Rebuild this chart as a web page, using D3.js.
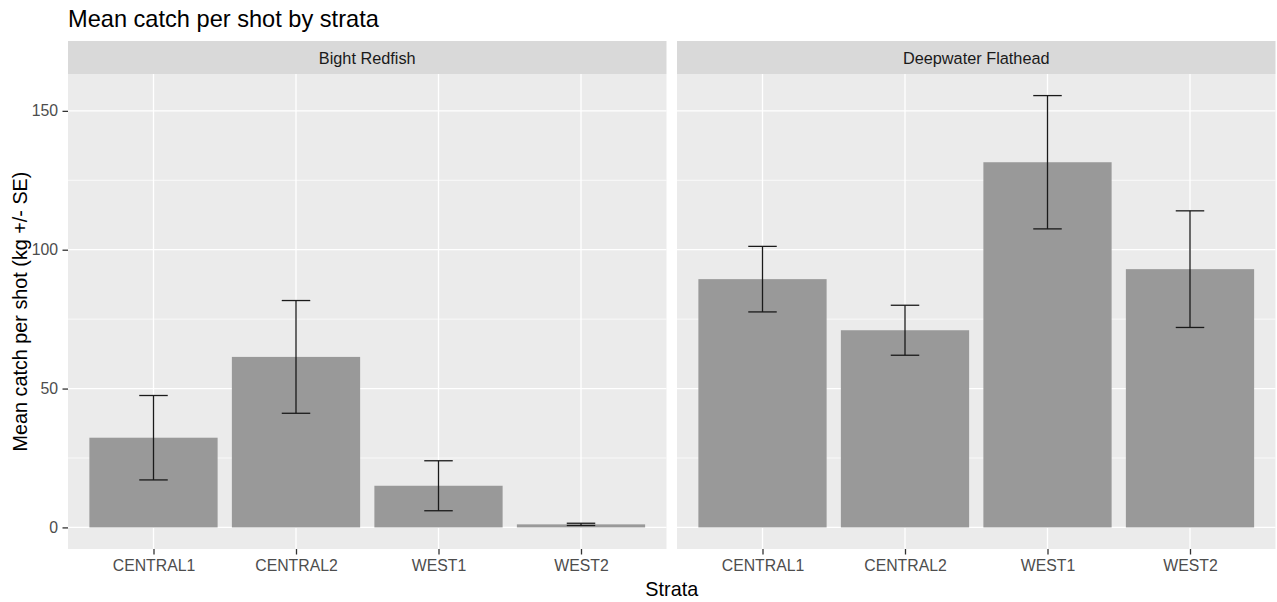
<!DOCTYPE html>
<html>
<head>
<meta charset="utf-8">
<script src="https://cdn.jsdelivr.net/npm/d3@7"></script>
<style>
  html, body { margin: 0; padding: 0; background: #fff; }
  svg { display: block; font-family: "Liberation Sans", Arial, sans-serif; }
</style>
</head>
<body>
<svg id="chart" width="1277" height="602"></svg>
<script>
// Mean catch per shot (kg) with standard errors, by survey stratum and species
const strata = ["CENTRAL1", "CENTRAL2", "WEST1", "WEST2"];
const species = ["Bight Redfish", "Deepwater Flathead"];
const meanRedfish = [32.3, 61.4, 15.0, 1.1];
const seRedfish = [15.2, 20.3, 9.0, 0.4];
const meanFlathead = [89.4, 71.0, 131.5, 93.0];
const seFlathead = [11.8, 9.0, 24.0, 21.0];
const yTicks = [0, 50, 100, 150];
const yMinorTicks = [25, 75, 125];

const panels = [
  { name: species[0], mean: meanRedfish, se: seRedfish },
  { name: species[1], mean: meanFlathead, se: seFlathead }
];

const svg = d3.select("#chart");

const panelTop = 74, panelBottom = 549, stripTop = 41;
const panelLeft = [68, 677], panelW = 598.5;
const tickLen = 5.5, tickFont = 15.8;

// shared y scale with 5% expansion around data + error range
const lo = Math.min(0, d3.min(panels, p => d3.min(p.mean, (m, i) => m - p.se[i])));
const hi = d3.max(panels, p => d3.max(p.mean, (m, i) => m + p.se[i]));
const pad = (hi - lo) * 0.05;
const y = d3.scaleLinear().domain([lo - pad, hi + pad]).range([panelBottom, panelTop]);

// title
svg.append("text")
  .attr("x", 68).attr("y", 27)
  .attr("font-size", 23.6).attr("fill", "#000")
  .text("Mean catch per shot by strata");

panels.forEach((p, pi) => {
  const x0 = panelLeft[pi];
  const x = d3.scalePoint().domain(strata).range([x0, x0 + panelW]).padding(0.6);
  const step = x.step();
  const g = svg.append("g");

  // strip
  g.append("rect").attr("x", x0).attr("y", stripTop)
    .attr("width", panelW).attr("height", panelTop - stripTop).attr("fill", "#d9d9d9");
  g.append("text").attr("x", x0 + panelW / 2).attr("y", 64)
    .attr("text-anchor", "middle").attr("font-size", 16.3).attr("fill", "#1a1a1a")
    .text(p.name);

  // panel background
  g.append("rect").attr("x", x0).attr("y", panelTop)
    .attr("width", panelW).attr("height", panelBottom - panelTop).attr("fill", "#ebebeb");

  // grid
  g.selectAll(".minor").data(yMinorTicks).join("line")
    .attr("x1", x0).attr("x2", x0 + panelW)
    .attr("y1", d => y(d)).attr("y2", d => y(d))
    .attr("stroke", "#fff").attr("stroke-width", 0.7);
  g.selectAll(".major").data(yTicks).join("line")
    .attr("x1", x0).attr("x2", x0 + panelW)
    .attr("y1", d => y(d)).attr("y2", d => y(d))
    .attr("stroke", "#fff").attr("stroke-width", 1.3);
  g.selectAll(".vgrid").data(strata).join("line")
    .attr("x1", d => x(d)).attr("x2", d => x(d))
    .attr("y1", panelTop).attr("y2", panelBottom)
    .attr("stroke", "#fff").attr("stroke-width", 1.3);

  // bars
  const bw = step * 0.9;
  g.selectAll(".bar").data(strata).join("rect")
    .attr("x", d => x(d) - bw / 2)
    .attr("width", bw)
    .attr("y", (d, i) => y(Math.max(0, p.mean[i])))
    .attr("height", (d, i) => Math.abs(y(0) - y(p.mean[i])))
    .attr("fill", "#999999");

  // error bars
  const ew = step * 0.2;
  strata.forEach((s, i) => {
    const cx = x(s), top = y(p.mean[i] + p.se[i]), bot = y(p.mean[i] - p.se[i]);
    const eg = g.append("g").attr("stroke", "#1a1a1a").attr("stroke-width", 1.3).attr("fill", "none");
    eg.append("line").attr("x1", cx).attr("x2", cx).attr("y1", top).attr("y2", bot);
    eg.append("line").attr("x1", cx - ew / 2).attr("x2", cx + ew / 2).attr("y1", top).attr("y2", top);
    eg.append("line").attr("x1", cx - ew / 2).attr("x2", cx + ew / 2).attr("y1", bot).attr("y2", bot);
  });

  // x axis
  const xa = g.append("g").attr("transform", `translate(0,${panelBottom})`)
    .call(d3.axisBottom(x).tickSize(tickLen).tickPadding(5.5));
  xa.select(".domain").remove();
  xa.selectAll("line").attr("stroke", "#333").attr("stroke-width", 1.3);
  xa.selectAll("text").attr("font-size", tickFont).attr("fill", "#4d4d4d")
    .attr("font-family", "Liberation Sans, Arial, sans-serif");

  // y axis on the first panel only
  if (pi === 0) {
    const ya = g.append("g").attr("transform", `translate(${x0},0)`)
      .call(d3.axisLeft(y).tickValues(yTicks).tickSize(tickLen).tickPadding(4.5));
    ya.select(".domain").remove();
    ya.selectAll("line").attr("stroke", "#333").attr("stroke-width", 1.3);
    ya.selectAll("text").attr("font-size", tickFont).attr("fill", "#4d4d4d")
      .attr("font-family", "Liberation Sans, Arial, sans-serif");
  }
});

// axis titles
svg.append("text")
  .attr("x", (panelLeft[0] + panelLeft[1] + panelW) / 2).attr("y", 596)
  .attr("text-anchor", "middle").attr("font-size", 19.8).attr("fill", "#000")
  .text("Strata");
svg.append("text")
  .attr("transform", `translate(27,${(panelTop + panelBottom) / 2}) rotate(-90)`)
  .attr("text-anchor", "middle").attr("font-size", 19.8).attr("fill", "#000")
  .text("Mean catch per shot (kg +/- SE)");
</script>
</body>
</html>
